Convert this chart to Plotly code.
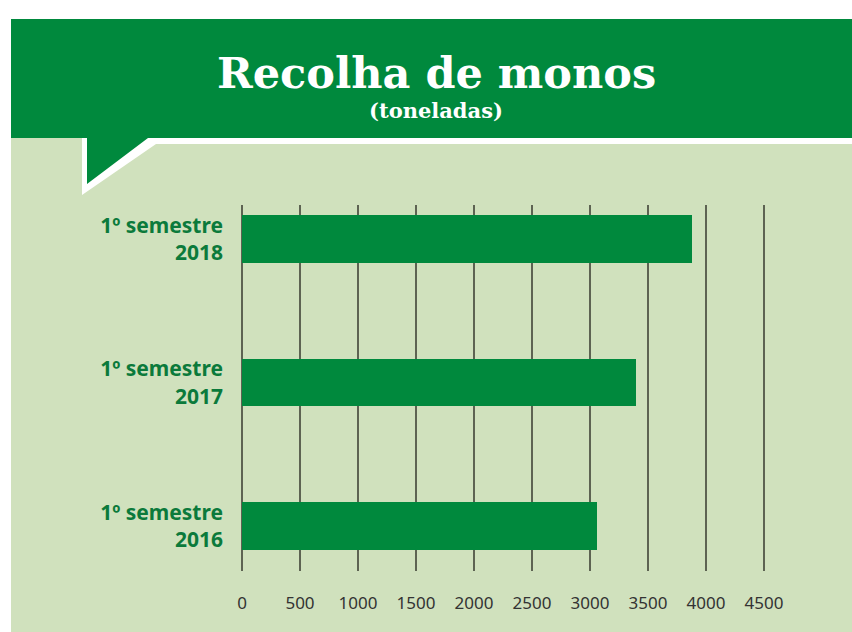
import plotly.graph_objects as go

# ---- data ----
categories = ["1º semestre<br>2016", "1º semestre<br>2017", "1º semestre<br>2018"]
values = [3060, 3400, 3880]
tick_values = [0, 500, 1000, 1500, 2000, 2500, 3000, 3500, 4000, 4500]
tick_labels = ["0", "500", "1000", "1500", "2000", "2500", "3000", "3500", "4000", "4500"]
title_text = "Recolha de monos"
subtitle_text = "(toneladas)"

# ---- styling ----
W, H = 852, 632
PL, PR, PT, PB = 238, 768, 205, 571  # plot area in pixels
XPAD = 4 * 4500 / 522                # 4 px expressed in data units
DARK = "#00893d"
LIGHT = "#d0e1bd"
LABEL_GREEN = "#0b7a3b"


def px(x):
    return (x - PL) / (PR - PL)


def py(y):
    return (PB - y) / (PB - PT)


def path(points):
    return "M " + " L ".join(f"{px(x)},{py(y)}" for x, y in points) + " Z"


fig = go.Figure()
fig.add_trace(go.Bar(
    x=values, y=categories, orientation="h",
    marker=dict(color=DARK, line=dict(width=0)),
    width=0.333, hoverinfo="x+y",
))

shapes = [
    dict(type="rect", xref="paper", yref="paper", x0=px(11), x1=px(852), y0=py(137), y1=py(632),
         fillcolor=LIGHT, line=dict(width=0), layer="below"),
    dict(type="path", xref="paper", yref="paper",
         path=path([(82, 137), (82, 195), (156, 144), (852, 144), (852, 137)]),
         fillcolor="white", line=dict(width=0), layer="below"),
    dict(type="rect", xref="paper", yref="paper", x0=px(11), x1=px(852), y0=py(19), y1=py(138),
         fillcolor=DARK, line=dict(width=0), layer="below"),
    dict(type="path", xref="paper", yref="paper",
         path=path([(87, 137), (87, 184), (148, 138), (852, 138), (852, 137)]),
         fillcolor=DARK, line=dict(width=0), layer="below"),
]

annotations = [
    dict(text=f"<b>{title_text}</b>", xref="paper", yref="paper", x=px(436), y=py(73),
         xanchor="center", yanchor="middle", showarrow=False,
         font=dict(family="DejaVu Serif", size=43, color="white")),
    dict(text=f"<b>{subtitle_text}</b>", xref="paper", yref="paper", x=px(436), y=py(111),
         xanchor="center", yanchor="middle", showarrow=False,
         font=dict(family="DejaVu Serif", size=21, color="white")),
]

fig.update_layout(
    width=W, height=H,
    margin=dict(l=PL, r=W - PR, t=PT, b=H - PB, pad=0),
    paper_bgcolor="white",
    plot_bgcolor="rgba(0,0,0,0)",
    showlegend=False,
    bargap=0,
    shapes=shapes,
    annotations=annotations,
    xaxis=dict(
        range=[-XPAD, 4500 + XPAD], tickvals=tick_values, ticktext=tick_labels,
        showgrid=True, gridcolor="#5d6352", gridwidth=2,
        zeroline=False, showline=False, ticks="",
        ticklabelstandoff=20,
        tickfont=dict(family="Noto Sans", size=17, color="#333333"),
        fixedrange=True,
    ),
    yaxis=dict(
        type="category", categoryorder="array", categoryarray=categories,
        range=[-0.3125, 2.236],
        showgrid=False, zeroline=False, showline=False, ticks="",
        ticklabelstandoff=14,
        tickfont=dict(family="Noto Sans", size=21, color=LABEL_GREEN, weight="bold"),
        fixedrange=True,
    ),
)

fig.write_html("out.html", config={"displayModeBar": False},
               post_script="document.body.style.margin='0';")
